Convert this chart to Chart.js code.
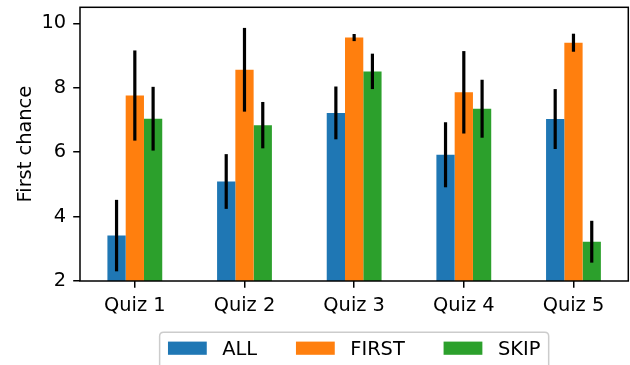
<!DOCTYPE html>
<html>
<head>
<meta charset="utf-8">
<style>
  html, body { margin: 0; padding: 0; background: #fff; }
  #wrap { width: 630px; height: 365px; }
</style>
<script src="https://cdn.jsdelivr.net/npm/chart.js@4/dist/chart.umd.min.js"></script>
</head>
<body>
<div id="wrap"><canvas id="c" width="630" height="365"></canvas></div>
<script>
// Quiz categories
const categories = ['Quiz 1', 'Quiz 2', 'Quiz 3', 'Quiz 4', 'Quiz 5'];

// Mean "first chance" score per group, with symmetric error half-widths
const allMeans   = [3.41, 5.09, 7.22, 5.92, 7.03];
const allErr     = [1.11, 0.85, 0.82, 1.01, 0.93];
const firstMeans = [7.76, 8.56, 9.56, 7.86, 9.40];
const firstErr   = [1.40, 1.30, 0.11, 1.28, 0.28];
const skipMeans  = [7.04, 6.84, 8.51, 7.35, 3.22];
const skipErr    = [0.99, 0.72, 0.55, 0.90, 0.65];

// Y axis range and tick spacing
const yMin = 2;
const yMax = 10.5;
const yStep = 2;

const FONT = 'DejaVu Sans';
const FS = 19.4;

// Vertical error bars through each bar's centre
const errorBars = {
  id: 'errorBars',
  afterDatasetsDraw(chart) {
    const ctx = chart.ctx;
    const y = chart.scales.y;
    ctx.save();
    ctx.strokeStyle = '#000';
    ctx.lineWidth = 3.2;
    ctx.lineCap = 'butt';
    chart.data.datasets.forEach((ds, i) => {
      const meta = chart.getDatasetMeta(i);
      meta.data.forEach((bar, j) => {
        const v = ds.data[j], e = ds.errors[j];
        ctx.beginPath();
        ctx.moveTo(bar.x, y.getPixelForValue(v + e));
        ctx.lineTo(bar.x, y.getPixelForValue(v - e));
        ctx.stroke();
      });
    });
    ctx.restore();
  }
};

// Box around the plotting area
const frame = {
  id: 'frame',
  afterDraw(chart) {
    const { ctx, chartArea: a } = chart;
    ctx.save();
    ctx.strokeStyle = '#000';
    ctx.lineWidth = 1.5;
    ctx.strokeRect(a.left, a.top, a.right - a.left, a.bottom - a.top);
    ctx.restore();
  }
};

// Framed legend below the axis, centred on the plotting area
const boxLegend = {
  id: 'boxLegend',
  afterDraw(chart) {
    const { ctx, chartArea: a } = chart;
    const em = FS;
    const handleW = 2.0 * em, handleH = 0.68 * em;
    const textPad = 0.8 * em, colSpace = 2.0 * em, borderPad = 0.43 * em;
    ctx.save();
    ctx.font = FS + 'px "' + FONT + '"';
    const items = chart.data.datasets.map(ds => ({
      label: ds.label, color: ds.backgroundColor, w: ctx.measureText(ds.label).width
    }));
    let inner = 0;
    items.forEach((it, k) => {
      inner += handleW + textPad + it.w + (k < items.length - 1 ? colSpace : 0);
    });
    const boxW = inner + 2 * borderPad;
    const boxX = (a.left + a.right) / 2 - boxW / 2;
    const boxY = 332.3;
    const r = 4;
    ctx.beginPath();
    ctx.moveTo(boxX + r, boxY);
    ctx.lineTo(boxX + boxW - r, boxY);
    ctx.quadraticCurveTo(boxX + boxW, boxY, boxX + boxW, boxY + r);
    ctx.lineTo(boxX + boxW, boxY + 60);
    ctx.lineTo(boxX, boxY + 60);
    ctx.lineTo(boxX, boxY + r);
    ctx.quadraticCurveTo(boxX, boxY, boxX + r, boxY);
    ctx.closePath();
    ctx.fillStyle = 'rgba(255,255,255,0.8)';
    ctx.fill();
    ctx.strokeStyle = '#cccccc';
    ctx.lineWidth = 1.5;
    ctx.stroke();

    let x = boxX + borderPad;
    const patchY = 341.6, baseline = 355;
    ctx.textBaseline = 'alphabetic';
    ctx.textAlign = 'left';
    items.forEach(it => {
      ctx.fillStyle = it.color;
      ctx.fillRect(x, patchY, handleW, handleH);
      ctx.fillStyle = '#000';
      ctx.fillText(it.label, x + handleW + textPad, baseline);
      x += handleW + textPad + it.w + colSpace;
    });
    ctx.restore();
  }
};

const ctx = document.getElementById('c').getContext('2d');
new Chart(ctx, {
  type: 'bar',
  data: {
    labels: categories,
    datasets: [
      { label: 'ALL',   data: allMeans,   errors: allErr,   backgroundColor: '#1f77b4' },
      { label: 'FIRST', data: firstMeans, errors: firstErr, backgroundColor: '#ff7f0e' },
      { label: 'SKIP',  data: skipMeans,  errors: skipErr,  backgroundColor: '#2ca02c' }
    ]
  },
  options: {
    responsive: false,
    animation: false,
    devicePixelRatio: 1,
    layout: { padding: { left: 0, top: 7.3, right: 1.7, bottom: 44 } },
    datasets: { bar: { categoryPercentage: 0.5, barPercentage: 1.0, borderWidth: 0 } },
    plugins: {
      legend: { display: false },
      tooltip: { enabled: false }
    },
    scales: {
      x: {
        grid: { display: true, drawOnChartArea: false, offset: false, tickLength: 6.8, tickColor: '#000', lineWidth: 1.5 },
        border: { display: false },
        ticks: { color: '#000', padding: 7, font: { family: FONT, size: FS } },
        afterFit(s) { s.height = 40; s.paddingLeft = 0; s.paddingRight = 0; }
      },
      y: {
        min: yMin,
        max: yMax,
        grid: { display: true, drawOnChartArea: false, tickLength: 6.8, tickColor: '#000', lineWidth: 1.5 },
        border: { display: false },
        ticks: { stepSize: yStep, includeBounds: false, color: '#000', padding: 7, font: { family: FONT, size: FS } },
        title: { display: true, text: 'First chance', color: '#000', padding: { top: 14, bottom: 0 }, font: { family: FONT, size: FS } },
        afterFit(s) { s.width = 80; s.paddingTop = 0; s.paddingBottom = 0; }
      }
    }
  },
  plugins: [errorBars, frame, boxLegend]
});
</script>
</body>
</html>
